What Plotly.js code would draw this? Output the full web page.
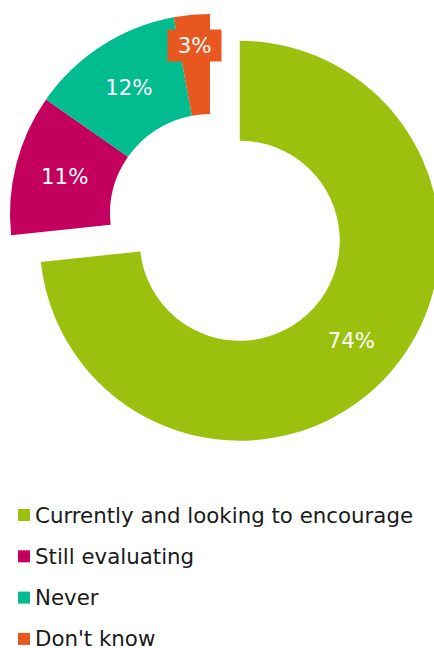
<!DOCTYPE html>
<html><head><meta charset="utf-8">
<script src="https://cdn.plot.ly/plotly-3.0.1.min.js"></script>
<style>
html,body{margin:0;padding:0;width:434px;height:648px;overflow:hidden;background:#fff;position:relative}
#chart{position:absolute;left:-30px;top:-26px;width:480px;height:674px}
</style></head><body><div id="chart"></div>
<script>
const labels = ['Currently and looking to encourage', 'Still evaluating', 'Never', "Don't know"];
const values = [73.3, 11.4, 12.4, 2.9];
const pctLabels = ['74%', '11%', '12%', '3%'];
const colors = ['#9bc10e', '#c4005f', '#00bc8f', '#e8571f'];
const pulls = [0.2, 0, 0, 0];
const boxedLabel = [false, false, false, true];

const W = 480, H = 674, OX = 30, OY = 26;
const FONT = 'DejaVu Sans, Verdana, sans-serif';
const FS = 21.33;
const pieBox = 480;
const domY0 = 1 - pieBox / H;

const texts = pctLabels.map((t, i) => boxedLabel[i] ? '' : t);
const total = values.reduce((a, b) => a + b, 0);
const R = pieBox / 2 / (1 + Math.max(...pulls));
const cx = W / 2, cy = pieBox / 2;

const annotations = [];
const shapes = [];
let cum = 0;
values.forEach((v, i) => {
  const mid = (cum + v / 2) / total * 2 * Math.PI;
  cum += v;
  if (boxedLabel[i]) {
    const rr = R * 0.845;
    const px = cx + rr * Math.sin(mid);
    const py = cy - rr * Math.cos(mid);
    annotations.push({x: px / W, y: 1 - py / H, xref: 'paper', yref: 'paper',
      text: '\u00a0' + pctLabels[i] + '\u00a0', showarrow: false, bgcolor: colors[i], borderpad: 3,
      font: {family: FONT, size: FS, color: '#ffffff'}, xanchor: 'center', yanchor: 'middle'});
  }
});

labels.forEach((lab, i) => {
  const yPage = 515 + i * 41.3;
  const y = 1 - (yPage + OY) / H;
  shapes.push({type: 'rect', xref: 'paper', yref: 'paper', xsizemode: 'pixel', ysizemode: 'pixel',
    xanchor: (OX + 24) / W, yanchor: y, x0: -6, x1: 6, y0: -6, y1: 6,
    fillcolor: colors[i], line: {width: 0}});
  annotations.push({x: (OX + 34) / W, y: y, xref: 'paper', yref: 'paper', text: lab,
    showarrow: false, xanchor: 'left', yanchor: 'middle', borderpad: 0,
    font: {family: FONT, size: FS, color: '#1a1a1a'}});
});

const trace = {
  type: 'pie', labels: labels, values: values, text: texts,
  marker: {colors: colors, line: {width: 0}},
  hole: 0.5, pull: pulls, sort: false, direction: 'clockwise', rotation: 0,
  textinfo: 'text', textposition: 'inside', insidetextorientation: 'horizontal',
  insidetextfont: {family: FONT, size: FS, color: '#ffffff'},
  domain: {x: [0, 1], y: [domY0, 1]}, showlegend: false, hoverinfo: 'none'
};

Plotly.newPlot('chart', [trace], {
  width: W, height: H, margin: {l: 0, r: 0, t: 0, b: 0, pad: 0},
  showlegend: false, paper_bgcolor: '#ffffff', plot_bgcolor: '#ffffff',
  annotations: annotations, shapes: shapes
}, {staticPlot: true});
</script></body></html>
